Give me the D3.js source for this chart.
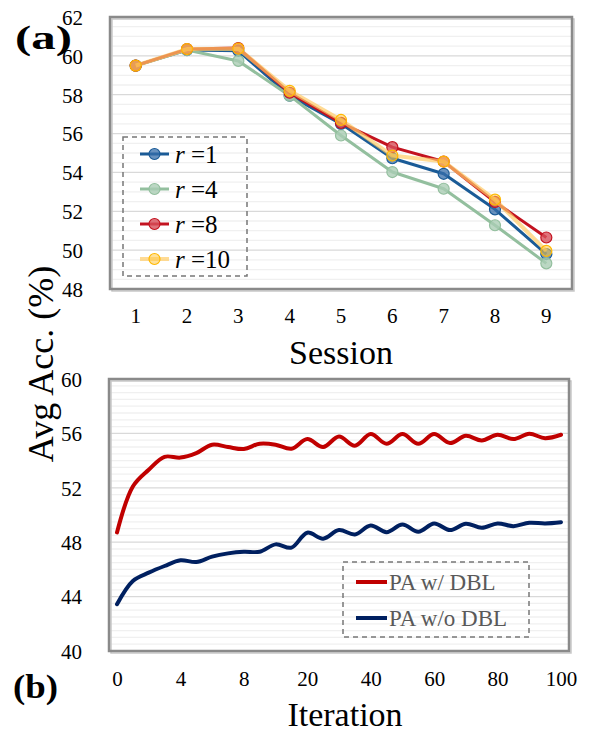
<!DOCTYPE html>
<html>
<head>
<meta charset="utf-8">
<script src="https://cdn.jsdelivr.net/npm/d3@7"></script>
<style>
  body { margin: 0; background: #fff; }
  svg text { font-family: 'Liberation Serif', 'Times New Roman', serif !important; }
</style>
</head>
<body>
<div id="chart"></div>
<script>
// --------------------------------------
//  Data
// --------------------------------------

const sessions = [1, 2, 3, 4, 5, 6, 7, 8, 9];
const r1  = [59.5, 60.3, 60.26, 57.95, 56.5, 54.73, 53.93, 52.1, 49.8];
const r4  = [59.5, 60.3, 59.74, 57.95, 55.9, 54.02, 53.16, 51.28, 49.32];
const r8  = [59.5, 60.35, 60.4, 58.1, 56.55, 55.3, 54.56, 52.48, 50.65];
const r10 = [59.5, 60.35, 60.37, 58.2, 56.7, 54.87, 54.56, 52.6, 49.96];
const rNames = ["1", "4", "8", "10"];
const topTicks = [48, 50, 52, 54, 56, 58, 60, 62];

const iterations = [0, 1, 2, 3, 4, 5, 6, 7, 8, 11, 14, 17, 20, 25, 30, 35, 40,
  45, 50, 55, 60, 65, 70, 75, 80, 85, 90, 95, 100];
const iterTicks = [0, 4, 8, 20, 40, 60, 80, 100];
const withDBL = [48.72, 52.1, 53.33, 54.28, 54.22, 54.55, 55.17, 55.0, 54.85,
  55.24, 55.17, 54.87, 55.58, 55.0, 55.77, 55.09, 55.95, 55.24, 55.95, 55.24,
  55.95, 55.29, 55.82, 55.48, 55.9, 55.58, 55.97, 55.65, 55.9];
const withoutDBL = [43.44, 45.15, 45.76, 46.25, 46.67, 46.54, 46.94, 47.18, 47.3,
  47.3, 47.84, 47.6, 48.7, 48.26, 48.89, 48.57, 49.23, 48.74, 49.3, 48.77,
  49.38, 48.89, 49.36, 49.06, 49.38, 49.18, 49.43, 49.38, 49.47];
const bottomNames = ["PA w/ DBL", "PA w/o DBL"];
const bottomTicks = [40, 44, 48, 52, 56, 60];

// --------------------------------------
//  Canvas
// --------------------------------------

const width = 592, height = 732;
const svg = d3.select("#chart").append("svg")
  .attr("width", width).attr("height", height)
  .attr("viewBox", [0, 0, width, height]);

function frame(g, x0, y0, x1, y1) {
  g.append("rect").attr("x", x0 + 2).attr("y", y0 + 2)
    .attr("width", x1 - x0).attr("height", y1 - y0)
    .attr("fill", "none").attr("stroke", "#c8c8c8").attr("stroke-width", 1.5);
  g.append("rect").attr("x", x0).attr("y", y0)
    .attr("width", x1 - x0).attr("height", y1 - y0)
    .attr("fill", "none").attr("stroke", "#8a8a8a").attr("stroke-width", 2.5);
}

// --------------------------------------
//  (a) top chart
// --------------------------------------

const boxA = { x0: 110, x1: 572, y0: 17, y1: 289 };
const xTop = d3.scaleBand().domain(sessions).range([boxA.x0, boxA.x1]);
const yTop = d3.scaleLinear().domain([48, 62]).range([boxA.y1, boxA.y0]);

const gTop = svg.append("g");
const minorTop = d3.range(48, 62.001, 0.5);
gTop.selectAll(null).data(minorTop).join("line")
  .attr("x1", boxA.x0).attr("x2", boxA.x1)
  .attr("y1", d => yTop(d)).attr("y2", d => yTop(d))
  .attr("stroke", d => (d % 2 === 0 ? "#d9d9d9" : "#f0f0f0"))
  .attr("stroke-width", 1.3);

const yAxisTop = gTop.append("g")
  .attr("transform", `translate(${boxA.x0 - 27},0)`)
  .call(d3.axisLeft(yTop).tickValues(topTicks).tickSize(0).tickPadding(0));
yAxisTop.select(".domain").remove();
yAxisTop.selectAll("text").attr("font-size", 21)
  .attr("fill", "#000").attr("dy", "0.35em");

const xAxisTop = gTop.append("g")
  .attr("transform", `translate(0,${boxA.y1 + 19})`)
  .call(d3.axisBottom(xTop).tickSize(0).tickPadding(0));
xAxisTop.select(".domain").remove();
xAxisTop.selectAll("text").attr("font-size", 21)
  .attr("fill", "#000").attr("dy", "0.7em");

const topSeries = [
  { name: rNames[0], values: r1, line: "#1a5b97", fill: "rgba(55,110,170,0.75)", stroke: "#1a5b97", w: 3, op: 1 },
  { name: rNames[1], values: r4, line: "#93bf9e", fill: "rgba(170,205,180,0.8)", stroke: "#93bf9e", w: 3, op: 1 },
  { name: rNames[2], values: r8, line: "#c3121f", fill: "rgba(215,80,90,0.8)", stroke: "#c3121f", w: 3, op: 1 },
  { name: rNames[3], values: r10, line: "#ffcc66", fill: "rgba(255,200,70,0.55)", stroke: "#ffb800", w: 4, op: 0.7 }
];

const lineTop = d3.line()
  .x((d, i) => xTop(sessions[i]) + xTop.bandwidth() / 2)
  .y(d => yTop(d));

topSeries.forEach(s => {
  gTop.append("path").datum(s.values)
    .attr("d", lineTop)
    .attr("fill", "none").attr("stroke", s.line)
    .attr("stroke-width", s.w).attr("stroke-opacity", s.op)
    .attr("stroke-linejoin", "round");
  gTop.selectAll(null).data(s.values).join("circle")
    .attr("cx", (d, i) => xTop(sessions[i]) + xTop.bandwidth() / 2)
    .attr("cy", d => yTop(d))
    .attr("r", 5.5)
    .attr("fill", s.fill).attr("stroke", s.stroke).attr("stroke-width", 1.2);
});

// legend (a)
const legA = gTop.append("g");
legA.append("rect").attr("x", 123).attr("y", 137).attr("width", 124).attr("height", 139)
  .attr("fill", "none").attr("stroke", "#777").attr("stroke-width", 1.5)
  .attr("stroke-dasharray", "5,4");
topSeries.forEach((s, i) => {
  const yy = 154 + i * 35;
  legA.append("line").attr("x1", 140).attr("x2", 169).attr("y1", yy).attr("y2", yy)
    .attr("stroke", s.line).attr("stroke-width", s.w).attr("stroke-opacity", s.op);
  legA.append("circle").attr("cx", 154.5).attr("cy", yy).attr("r", 5.5)
    .attr("fill", s.fill).attr("stroke", s.stroke).attr("stroke-width", 1.2);
  const t = legA.append("text").attr("x", 175).attr("y", yy).attr("dy", "0.35em")
    .attr("font-size", 25).attr("fill", "#000");
  t.append("tspan").attr("font-style", "italic").text("r");
  t.append("tspan").text(" =" + s.name);
});

frame(gTop, boxA.x0, boxA.y0, boxA.x1, boxA.y1);

gTop.append("text").attr("x", 15).attr("y", 37).attr("dy", "0.35em")
  .attr("font-size", 34).attr("font-weight", "bold")
  .attr("textLength", 57).attr("lengthAdjust", "spacingAndGlyphs").text("(a)");
gTop.append("text").attr("x", (boxA.x0 + boxA.x1) / 2).attr("y", 352).attr("dy", "0.35em")
  .attr("text-anchor", "middle").attr("font-size", 34).text("Session");

// --------------------------------------
//  (b) bottom chart
// --------------------------------------

const boxB = { x0: 109, x1: 569, y0: 379, y1: 651 };
const xBot = d3.scalePoint().domain(iterations).range([boxB.x0 + 8, boxB.x1 - 8]);
const yBot = d3.scaleLinear().domain([40, 60]).range([boxB.y1, boxB.y0]);

const gBot = svg.append("g");
const minorBot = d3.range(40, 60.001, 0.5);
gBot.selectAll(null).data(minorBot).join("line")
  .attr("x1", boxB.x0).attr("x2", boxB.x1)
  .attr("y1", d => yBot(d)).attr("y2", d => yBot(d))
  .attr("stroke", d => (d % 4 === 0 ? "#d9d9d9" : "#f0f0f0"))
  .attr("stroke-width", 1.3);

const yAxisBot = gBot.append("g")
  .attr("transform", `translate(${boxB.x0 - 27},0)`)
  .call(d3.axisLeft(yBot).tickValues(bottomTicks).tickSize(0).tickPadding(0));
yAxisBot.select(".domain").remove();
yAxisBot.selectAll("text").attr("font-size", 21)
  .attr("fill", "#000").attr("dy", "0.35em");

const xAxisBot = gBot.append("g")
  .attr("transform", `translate(0,${boxB.y1 + 20})`)
  .call(d3.axisBottom(xBot).tickValues(iterTicks).tickSize(0).tickPadding(0));
xAxisBot.select(".domain").remove();
xAxisBot.selectAll("text").attr("font-size", 21)
  .attr("fill", "#000").attr("dy", "0.7em");

const botSeries = [
  { name: bottomNames[0], values: withDBL, color: "#c00000" },
  { name: bottomNames[1], values: withoutDBL, color: "#002060" }
];

const lineBot = d3.line()
  .x((d, i) => xBot(iterations[i]))
  .y(d => yBot(d))
  .curve(d3.curveCatmullRom.alpha(0.5));

botSeries.forEach(s => {
  gBot.append("path").datum(s.values)
    .attr("d", lineBot)
    .attr("fill", "none").attr("stroke", s.color)
    .attr("stroke-width", 4).attr("stroke-linecap", "round").attr("stroke-linejoin", "round");
});

// legend (b)
const legB = gBot.append("g");
legB.append("rect").attr("x", 343).attr("y", 562).attr("width", 186).attr("height", 75)
  .attr("fill", "none").attr("stroke", "#777").attr("stroke-width", 1.5)
  .attr("stroke-dasharray", "5,4");
botSeries.forEach((s, i) => {
  const yy = 582 + i * 36;
  legB.append("line").attr("x1", 356).attr("x2", 387).attr("y1", yy).attr("y2", yy)
    .attr("stroke", s.color).attr("stroke-width", 4);
  legB.append("text").attr("x", 389).attr("y", yy).attr("dy", "0.35em")
    .attr("font-size", 23).attr("fill", "#595959").text(s.name);
});

frame(gBot, boxB.x0, boxB.y0, boxB.x1, boxB.y1);

gBot.append("text").attr("x", 13).attr("y", 686).attr("dy", "0.35em")
  .attr("font-size", 34).attr("font-weight", "bold")
  .attr("textLength", 45).attr("lengthAdjust", "spacingAndGlyphs").text("(b)");
gBot.append("text").attr("x", (boxB.x0 + boxB.x1) / 2 + 6).attr("y", 714).attr("dy", "0.35em")
  .attr("text-anchor", "middle").attr("font-size", 34).text("Iteration");

// shared y title
svg.append("text")
  .attr("transform", "translate(40,364) rotate(-90)")
  .attr("dy", "0.35em").attr("text-anchor", "middle")
  .attr("font-size", 36).text("Avg Acc. (%)");
</script>
</body>
</html>
